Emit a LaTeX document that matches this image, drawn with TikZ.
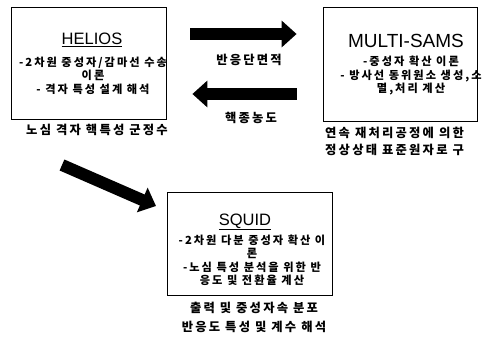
\documentclass[tikz,border=0pt]{standalone}
\usepackage{fontspec}
\setmainfont{Liberation Sans}
\newfontfamily\kr[LetterSpace=18]{Noto Sans CJK KR}
\usetikzlibrary{positioning,arrows.meta}

\begin{document}
\begin{tikzpicture}[x=1pt, y=-1pt,
  box/.style={draw, line width=0.8pt, inner sep=0pt},
  title/.style={font=\fontsize{16.5}{18}\selectfont, inner sep=0pt, anchor=base},
  body/.style={font=\kr\bfseries\fontsize{11.2}{13.5}\selectfont, align=center, inner sep=0pt},
  captxt/.style={font=\kr\bfseries\fontsize{12.3}{17}\selectfont, align=center, inner sep=0pt},
  fat/.style={line width=12pt, -{Triangle[length=15pt,width=26pt]}},
]
\useasboundingbox (0,0) rectangle (486,345);

% ---- HELIOS (top left) ----
\node[box, minimum width=155pt, minimum height=112pt] (helios) at (88.5,63) {};
\node[title] (helios-t) at (92,45) {\underline{HELIOS}};
\node[body] (helios-b) at (93,75.5)
  {-2차원 중성자/감마선 수송\\이론\\- 격자 특성 설계 해석};
\node[captxt] (helios-c) at (97,130) {노심 격자 핵특성 군정수};

% ---- MULTI-SAMS (top right) ----
\node[box, minimum width=154pt, minimum height=114pt] (multisams) at (400,64) {};
\node[title, font=\fontsize{19}{21}\selectfont] (multisams-t) at (406,47) {MULTI-SAMS};
\node[body] (multisams-b) at (411,76)
  {-중성자 확산 이론\\- 방사선 동위원소 생성,소\\멸,처리 계산};
\node[captxt, align=left, anchor=west] (multisams-c) at (325,141.5)
  {연속 재처리공정에 의한\\정상상태 표준원자로 구};

% ---- SQUID (bottom) ----
\node[box, minimum width=165pt, minimum height=103pt] (squid) at (249.5,243.5) {};
\node[title] (squid-t) at (245,225) {\underline{SQUID}};
\node[body] (squid-b) at (252,260.5)
  {-2차원 다분 중성자 확산 이\\론\\-노심 특성 분석을 위한 반\\응도 및 전환율 계산};
\node[captxt, font=\kr\bfseries\fontsize{12.3}{19}\selectfont] (squid-c) at (254,317.5)
  {출력 및 중성자속 분포\\반응도 특성 및 계수 해석};

% ---- exchange arrows ----
\coordinate (y34) at (0,34);
\coordinate (y94) at (0,94);
\draw[fat, shorten <=24pt, shorten >=26pt] (helios.east|-y34) -- (multisams.west|-y34);
\node[captxt] (xs) at (249,60) {반응단면적};
\draw[fat, shorten <=26pt, shorten >=26pt] (multisams.west|-y94) -- (helios.east|-y94);
\node[captxt] (nd) at (251,118) {핵종농도};

% ---- HELIOS to SQUID ----
\coordinate (d0) at (62,165);
\coordinate (d1) at (156,206);
\draw[fat] (d0) -- (d1);

\end{tikzpicture}
\end{document}
